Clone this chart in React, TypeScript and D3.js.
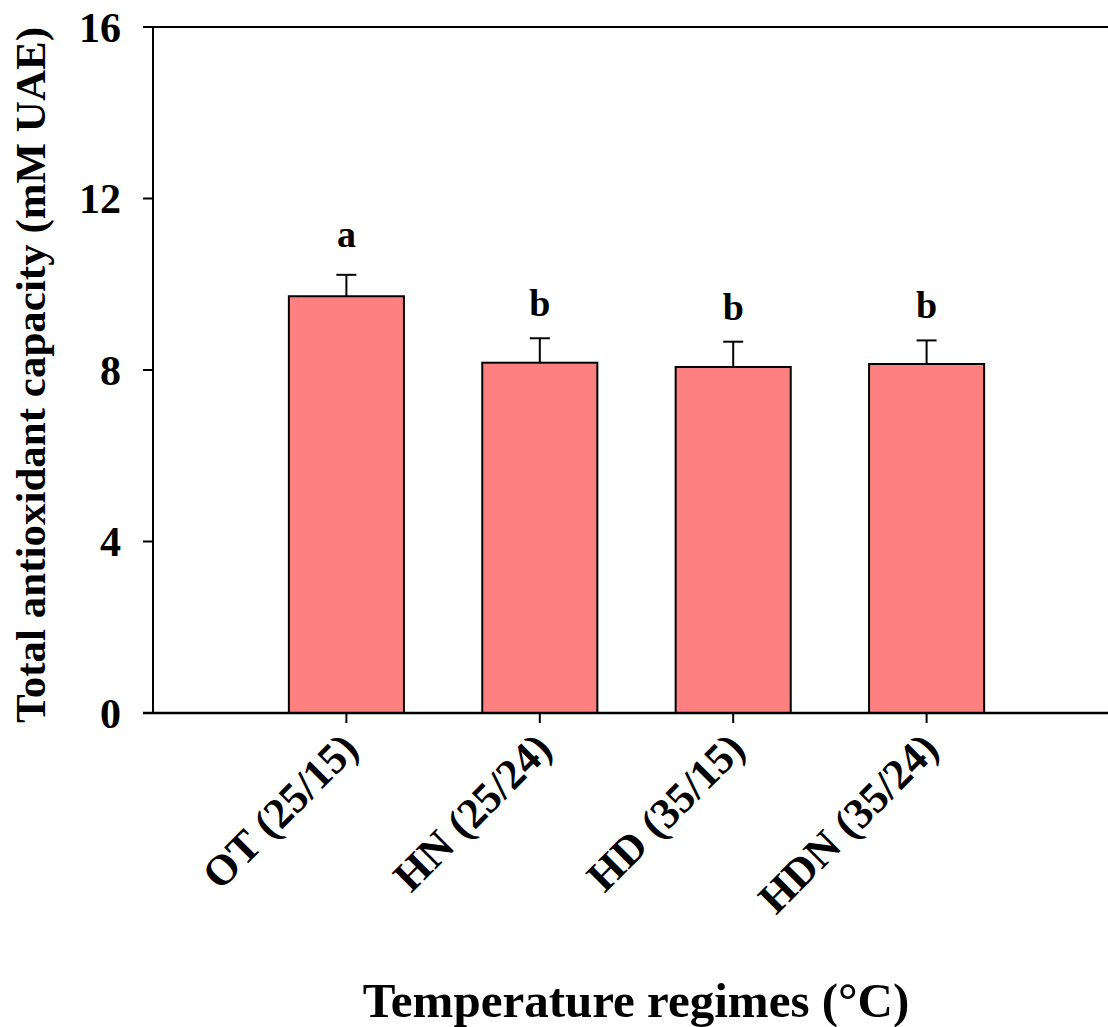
import React from "react";
import * as d3 from "d3";

const categories = ["OT (25/15)", "HN (25/24)", "HD (35/15)", "HDN (35/24)"];
const means = [9.72, 8.17, 8.07, 8.14];
const errors = [0.5, 0.57, 0.59, 0.55];
const letters = ["a", "b", "b", "b"];
const yTicks = [0, 4, 8, 12, 16];

const W = 1108;
const H = 1027;
const FONT = "'Liberation Serif', 'Times New Roman', serif";

export default function App() {
  const left = 153;
  const top = 27;
  const bottom = 713;
  const x = d3.scaleLinear().domain([0, categories.length + 1]).range([left, 1120]);
  const y = d3.scaleLinear().domain([0, 16]).range([bottom, top]);
  const unit = x(1) - x(0);
  const barW = unit * 0.595;
  const capW = 20;

  return (
    <svg
      width={W}
      height={H}
      style={{ position: "absolute", left: 0, top: 0, background: "#fff" }}
      fontFamily={FONT}
      fontWeight="bold"
    >
      {means.map((m, i) => {
        const cx = x(i + 1);
        return (
          <g key={i}>
            <line x1={cx} x2={cx} y1={y(m)} y2={y(m + errors[i])} stroke="#000" strokeWidth={2} />
            <line x1={cx - capW / 2} x2={cx + capW / 2} y1={y(m + errors[i])} y2={y(m + errors[i])} stroke="#000" strokeWidth={2} />
            <rect x={cx - barW / 2} y={y(m)} width={barW} height={y(0) - y(m)} fill="#FF8080" stroke="#000" strokeWidth={2} />
            <text x={cx} y={y(m + errors[i]) - (i === 0 ? 28 : 22)} textAnchor="middle" fontSize={38}>
              {letters[i]}
            </text>
          </g>
        );
      })}
      <line x1={left} x2={left} y1={top} y2={bottom} stroke="#000" strokeWidth={2} />
      <line x1={left - 10} x2={W} y1={bottom} y2={bottom} stroke="#000" strokeWidth={2.5} />
      <line x1={left - 10} x2={W} y1={top} y2={top} stroke="#000" strokeWidth={2} />
      {yTicks.map((t) => (
        <g key={t}>
          <line x1={left - 10} x2={left} y1={y(t)} y2={y(t)} stroke="#000" strokeWidth={2} />
          <text x={121} y={y(t)} dy="0.35em" textAnchor="end" fontSize={42}>
            {t}
          </text>
        </g>
      ))}
      {categories.map((c, i) => {
        const cx = x(i + 1);
        return (
          <g key={c}>
            <line x1={cx} x2={cx} y1={bottom} y2={bottom + 10} stroke="#000" strokeWidth={2} />
            <text
              transform={`translate(${cx + 14},${bottom + 38}) rotate(-45)`}
              textAnchor="end"
              fontSize={43}
            >
              {c}
            </text>
          </g>
        );
      })}
      <text x={636} y={1017} textAnchor="middle" fontSize={49}>
        Temperature regimes (°C)
      </text>
      <text transform={`translate(45,${(top + bottom) / 2 + 5}) rotate(-90)`} textAnchor="middle" fontSize={43}>
        Total antioxidant capacity (mM UAE)
      </text>
    </svg>
  );
}
